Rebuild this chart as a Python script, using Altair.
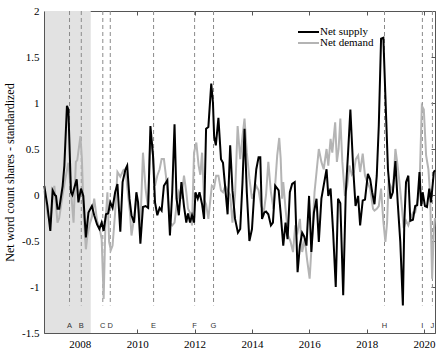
import altair as alt
import pandas as pd

# ---- Net supply (black) ----
sup_t = [2006.76, 2006.87, 2006.97, 2007.05, 2007.13, 2007.17, 2007.22, 2007.28, 2007.40, 2007.46,
         2007.55, 2007.60, 2007.69, 2007.74, 2007.78, 2007.89, 2007.95, 2008.04, 2008.12, 2008.21,
         2008.30, 2008.42, 2008.50, 2008.60, 2008.68, 2008.76, 2008.83, 2008.91, 2008.99, 2009.06,
         2009.14, 2009.23, 2009.31, 2009.41, 2009.49, 2009.59, 2009.65, 2009.73, 2009.80, 2009.89,
         2009.97, 2010.03, 2010.11, 2010.20, 2010.29, 2010.38, 2010.46, 2010.55, 2010.62, 2010.70,
         2010.78, 2010.85, 2010.93, 2011.05, 2011.14, 2011.22, 2011.30, 2011.37, 2011.45, 2011.54,
         2011.63, 2011.71, 2011.77, 2011.84, 2011.91, 2011.98, 2012.03, 2012.11, 2012.17, 2012.26,
         2012.33, 2012.40, 2012.48, 2012.58, 2012.64, 2012.68, 2012.74, 2012.83, 2012.92, 2012.99,
         2013.07, 2013.15, 2013.24, 2013.32, 2013.41, 2013.51, 2013.59, 2013.67, 2013.74, 2013.82,
         2013.91, 2014.00, 2014.08, 2014.15, 2014.23, 2014.29, 2014.35, 2014.43, 2014.49, 2014.57,
         2014.66, 2014.73, 2014.81, 2014.93, 2015.00, 2015.09, 2015.17, 2015.24, 2015.32, 2015.40,
         2015.49, 2015.59, 2015.67, 2015.75, 2015.82, 2015.90, 2015.99, 2016.07, 2016.16, 2016.25,
         2016.33, 2016.42, 2016.52, 2016.60, 2016.66, 2016.74, 2016.83, 2016.92, 2017.00, 2017.08,
         2017.18, 2017.27, 2017.35, 2017.43, 2017.53, 2017.61, 2017.70, 2017.77, 2017.86, 2017.94,
         2018.04, 2018.12, 2018.19, 2018.27, 2018.35, 2018.42, 2018.50, 2018.58, 2018.65, 2018.74,
         2018.83, 2018.91, 2019.00, 2019.08, 2019.17, 2019.26, 2019.31, 2019.37, 2019.45, 2019.52,
         2019.61, 2019.69, 2019.76, 2019.84, 2019.90, 2019.95, 2020.03, 2020.10, 2020.18, 2020.24,
         2020.34, 2020.38]
sup_v = [0.10, -0.12, -0.39, 0.05, 0.00, -0.01, -0.15, -0.15, 0.10, 0.32,
         0.97, 0.93, 0.03, 0.00, 0.05, 0.17, -0.08, 0.07, -0.01, -0.46,
         -0.19, -0.12, -0.22, -0.32, -0.37, -0.30, -0.39, -0.21, -0.20, -0.08,
         -0.14, 0.03, 0.12, -0.40, 0.14, 0.28, 0.32, -0.04, -0.22, -0.30,
         0.03, -0.08, -0.53, -0.13, -0.12, -0.14, 0.75, 0.43, -0.08, -0.22,
         -0.14, -0.17, 0.10, 0.16, -0.44, 0.03, 0.77, -0.04, -0.22, 0.14,
         -0.12, -0.30, -0.20, -0.30, -0.22, -0.30, 0.03, -0.04, 0.03, -0.10,
         -0.26, 0.72, 0.74, 1.21, 1.00, 0.64, 0.54, 0.84, 0.39, 0.35,
         0.07, -0.21, 0.54, 0.05, -0.26, -0.41, -0.37, 0.14, 0.72, 0.03,
         -0.50, -0.37, 0.03, 0.28, 0.41, 0.41, -0.26, -0.19, -0.18, -0.21,
         -0.33, -0.30, 0.10, 0.05, -0.20, -0.55, -0.30, -0.48, 0.03, 0.12,
         0.14, -0.84, -0.55, -0.41, -0.45, -0.55, -0.01, -0.62, -0.19, -0.04,
         -0.51, -0.04, 0.14, 0.28, -0.01, 0.07, -0.41, -1.00, -0.04, -0.09,
         -1.09, 0.03, 0.46, 0.93, 0.28, -0.12, -0.01, -0.33, -0.06, -0.05,
         0.23, 0.17, 0.03, -0.10, 0.21, 0.75, 1.70, 1.71, 1.08, 0.28,
         -0.04, 0.03, 0.37, -0.08, -0.51, -1.20, -0.30, 0.14, 0.21, -0.28,
         -0.27, -0.12, -0.11, 0.25, -0.12, 0.03, -0.12, -0.13, 0.07, -0.08,
         0.25, 0.27]

# ---- Net demand (gray) ----
dem_t = [2006.76, 2006.87, 2006.97, 2007.05, 2007.11, 2007.22, 2007.28, 2007.40, 2007.48, 2007.60,
         2007.69, 2007.78, 2007.86, 2007.91, 2008.02, 2008.07, 2008.13, 2008.21, 2008.26, 2008.34,
         2008.42, 2008.50, 2008.60, 2008.68, 2008.76, 2008.83, 2008.89, 2008.96, 2009.02, 2009.08,
         2009.14, 2009.23, 2009.31, 2009.41, 2009.52, 2009.60, 2009.68, 2009.75, 2009.80, 2009.89,
         2009.97, 2010.03, 2010.11, 2010.20, 2010.29, 2010.38, 2010.46, 2010.55, 2010.62, 2010.70,
         2010.78, 2010.85, 2010.93, 2011.00, 2011.07, 2011.14, 2011.22, 2011.30, 2011.37, 2011.45,
         2011.54, 2011.63, 2011.71, 2011.77, 2011.84, 2011.91, 2011.98, 2012.06, 2012.14, 2012.20,
         2012.26, 2012.33, 2012.40, 2012.48, 2012.60, 2012.68, 2012.75, 2012.83, 2012.92, 2012.99,
         2013.07, 2013.15, 2013.24, 2013.32, 2013.41, 2013.50, 2013.59, 2013.67, 2013.74, 2013.82,
         2013.91, 2014.00, 2014.08, 2014.15, 2014.23, 2014.32, 2014.41, 2014.49, 2014.57, 2014.66,
         2014.75, 2014.88, 2014.95, 2015.00, 2015.05, 2015.09, 2015.17, 2015.26, 2015.34, 2015.43,
         2015.51, 2015.59, 2015.67, 2015.75, 2015.84, 2015.92, 2016.01, 2016.10, 2016.18, 2016.26,
         2016.33, 2016.42, 2016.50, 2016.60, 2016.66, 2016.74, 2016.80, 2016.90, 2016.96, 2017.02,
         2017.08, 2017.15, 2017.24, 2017.32, 2017.40, 2017.48, 2017.55, 2017.62, 2017.70, 2017.77,
         2017.86, 2017.94, 2018.02, 2018.12, 2018.22, 2018.27, 2018.35, 2018.42, 2018.50, 2018.58,
         2018.65, 2018.71, 2018.76, 2018.83, 2018.91, 2019.00, 2019.06, 2019.12, 2019.20, 2019.29,
         2019.37, 2019.45, 2019.52, 2019.61, 2019.69, 2019.76, 2019.84, 2019.92, 2019.99, 2020.07,
         2020.15, 2020.21, 2020.28, 2020.34, 2020.38]
dem_v = [0.05, -0.20, -0.30, -0.05, 0.10, -0.30, -0.25, 0.00, 0.15, 0.35,
         0.05, -0.30, 0.36, 0.38, 0.64, 0.40, -0.19, -0.59, -0.45, -0.32,
         -0.24, -0.04, -0.28, -0.35, -0.48, -1.13, -0.33, 0.03, -0.51, -0.60,
         -0.55, -0.19, 0.25, 0.20, 0.27, 0.25, 0.00, -0.20, -0.44, -0.25,
         -0.04, -0.12, -0.33, 0.46, 0.07, -0.15, 0.64, 0.43, 0.10, 0.21,
         0.28, 0.39, 0.39, 0.21, -0.04, -0.30, -0.33, -0.30, -0.12, 0.03,
         -0.04, 0.21, 0.03, -0.15, -0.19, -0.33, 0.46, 0.57, 0.32, 0.22,
         0.46, -0.05, -0.10, -0.26, 0.10, 0.08, 0.21, 0.21, 0.05, 0.03,
         0.10, 0.05, 0.00, -0.30, 0.00, 0.75, 0.39, 0.64, 0.83, 0.46,
         0.18, -0.04, 0.03, 0.10, 0.05, -0.12, -0.19, 0.00, 0.36, 0.03,
         -0.15, 0.43, 0.62, 0.40, -0.04, 0.14, -0.15, -0.44, -0.50, -0.62,
         -0.33, -0.40, -0.26, -0.62, -0.48, -0.70, -0.91, -0.44, 0.03, 0.28,
         0.50, 0.36, 0.28, 0.50, 0.32, 0.61, 0.46, 0.79, 0.36, 0.50,
         0.83, 0.36, -0.01, 0.10, 0.32, 0.22, 0.25, 0.39, 0.43, 0.25,
         0.45, 0.21, 0.14, 0.07, -0.15, -0.17, -0.15, -0.12, 0.07, -0.29,
         -0.51, -0.30, 0.14, 0.10, 0.03, 0.50, 0.36, 0.20, -0.05, -0.36,
         -0.28, -0.33, -0.26, -0.19, -0.19, -0.08, 0.07, 0.97, 0.93, 0.43,
         0.28, 0.00, -0.91, -0.37, -0.25]

assert len(sup_t) == len(sup_v) and len(dem_t) == len(dem_v)

# ---- event markers ----
event_labels = ["A", "B", "C", "D", "E", "F", "G", "H", "I", "J"]
event_t = [2007.64, 2008.05, 2008.80, 2009.06, 2010.57, 2012.00, 2012.66, 2018.62, 2019.94, 2020.29]

# ---- shaded period ----
shade_start = [2006.75]
shade_end = [2008.38]

series_names = ["Net supply", "Net demand"]
series_colors = ["#000000", "#b4b4b4"]
year_ticks = [2008, 2010, 2012, 2014, 2016, 2018, 2020]
y_ticks = [-1.5, -1, -0.5, 0, 0.5, 1, 1.5, 2]

sup_df = pd.DataFrame({"t": sup_t, "v": sup_v, "series": series_names[0]})
dem_df = pd.DataFrame({"t": dem_t, "v": dem_v, "series": series_names[1]})
ev_df = pd.DataFrame({"t": event_t, "label": event_labels})
sh_df = pd.DataFrame({"start": shade_start, "end": shade_end})

xscale = alt.Scale(domain=[2006.75, 2020.38], nice=False, zero=False)
yscale = alt.Scale(domain=[-1.5, 2], nice=False, zero=False)
cscale = alt.Scale(domain=series_names, range=series_colors)

SERIF = "Liberation Serif"
FRAME = "#555555"

legend = alt.Legend(orient="none", legendX=253, legendY=16, title=None,
                    symbolType="stroke", symbolSize=441, symbolStrokeWidth=2,
                    labelFont=SERIF, labelFontSize=11, labelColor="#000000",
                    labelOffset=0, rowPadding=0, clipHeight=10, padding=0)

shade = alt.Chart(sh_df).mark_rect(color="#e2e2e2").encode(
    x=alt.X("start:Q", scale=xscale, axis=None),
    x2="end:Q",
    y=alt.YDatum(-1.5, scale=yscale, axis=None),
    y2=alt.Y2Datum(2),
)

rules = alt.Chart(ev_df).mark_rule(color="#8a8a8a", strokeDash=[4, 3], strokeWidth=1).encode(
    x=alt.X("t:Q", scale=xscale,
            axis=alt.Axis(orient="top", offset=-4, tickSize=4, labels=False, domain=False,
                          values=year_ticks, title=None, tickColor=FRAME, grid=False)),
    y=alt.YDatum(2, scale=yscale, axis=None),
    y2=alt.Y2Datum(-1.2),
)

texts = alt.Chart(ev_df).mark_text(font="Liberation Sans", fontSize=7.5, color="#333333",
                                   baseline="middle").encode(
    x=alt.X("t:Q", scale=xscale, axis=None),
    y=alt.YDatum(-1.42, scale=yscale, axis=None),
    text="label:N",
)

dem_line = alt.Chart(dem_df).mark_line(strokeWidth=2).encode(
    x=alt.X("t:Q", scale=xscale, axis=None),
    y=alt.Y("v:Q", scale=yscale,
            axis=alt.Axis(orient="right", offset=-4, tickSize=4, labels=False, domain=False,
                          values=y_ticks, title=None, tickColor=FRAME, grid=False)),
    color=alt.Color("series:N", scale=cscale, legend=legend),
)

sup_line = alt.Chart(sup_df).mark_line(strokeWidth=2).encode(
    x=alt.X("t:Q", scale=xscale,
            axis=alt.Axis(orient="bottom", offset=-4, tickSize=4, values=year_ticks, format="d",
                          labelFont=SERIF, labelFontSize=11, labelColor="#000000",
                          labelPadding=5, domain=False, tickColor=FRAME, title=None, grid=False)),
    y=alt.Y("v:Q", scale=yscale,
            axis=alt.Axis(orient="left", values=y_ticks, labelExpr="'' + datum.value",
                          labelFont=SERIF, labelFontSize=11, labelColor="#000000",
                          ticks=False, labelPadding=5, domain=True, domainColor=FRAME,
                          zindex=1, grid=False,
                          title="Net word count shares - standardized",
                          titleFont=SERIF, titleFontSize=12, titleFontWeight="normal",
                          titleColor="#000000", titlePadding=5)),
    color=alt.Color("series:N", scale=cscale, legend=legend),
)

chart = alt.layer(shade, rules, texts, dem_line, sup_line).resolve_axis(
    x="independent", y="independent"
).properties(
    width=391, height=322,
    padding={"left": 44, "top": 11, "right": 2, "bottom": 18},
    autosize="none",
    background="white",
).configure_view(stroke=FRAME, strokeWidth=1)

chart.save("out.html", embed_options={"renderer": "svg", "actions": False})
